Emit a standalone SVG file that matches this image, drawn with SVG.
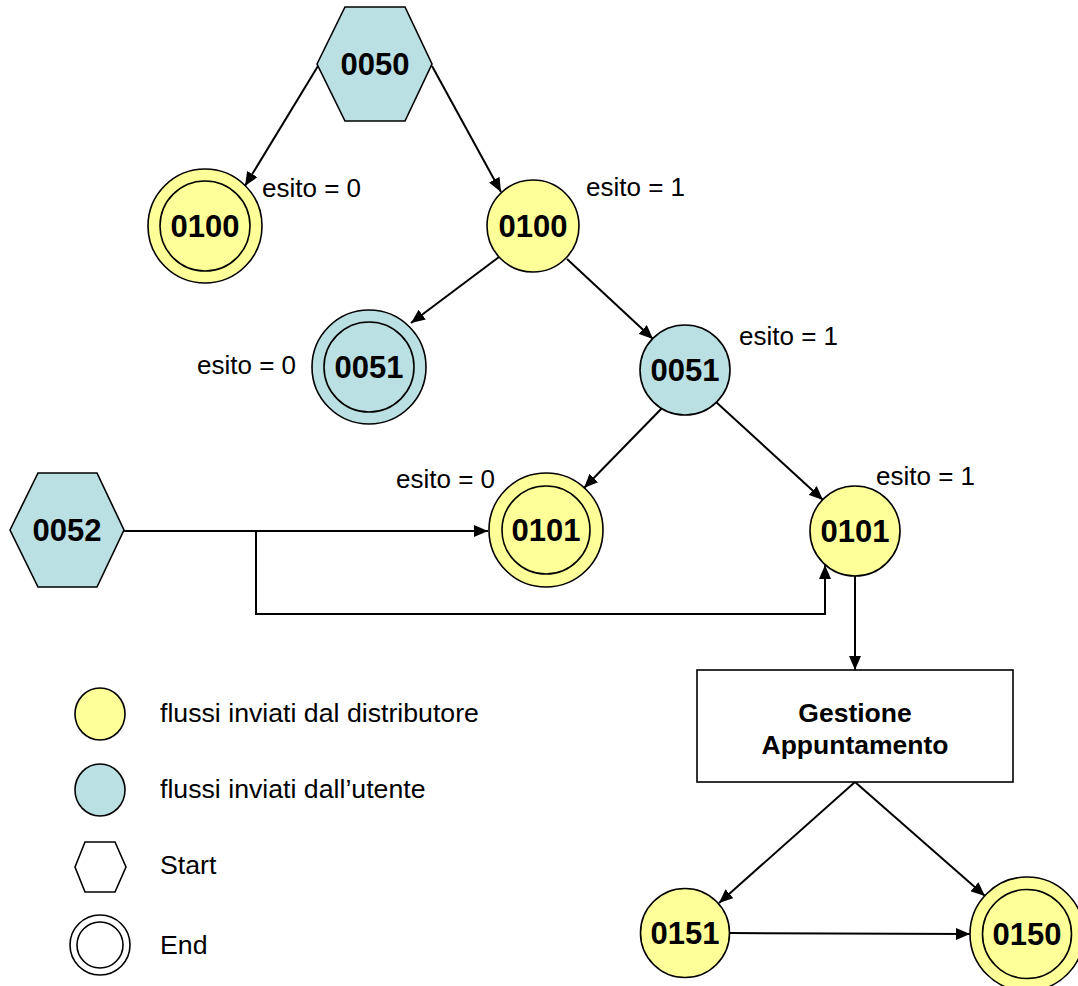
<svg xmlns="http://www.w3.org/2000/svg" width="1078" height="986" viewBox="0 0 1078 986">
<style>
.y{fill:#FFFF99;stroke:#000;stroke-width:1.6}
.b{fill:#BBE0E3;stroke:#000;stroke-width:1.6}
.w{fill:#fff;stroke:#000;stroke-width:1.6}
.in{fill:none;stroke:#000;stroke-width:1.6}
.lbl{font-family:"Liberation Sans",Arial,sans-serif;font-weight:bold;font-size:31px;text-anchor:middle;fill:#000}
.box{font-family:"Liberation Sans",Arial,sans-serif;font-weight:bold;font-size:26.5px;text-anchor:middle;fill:#000}
.t{font-family:"Liberation Sans",Arial,sans-serif;font-size:26px;fill:#000}
.lg{font-family:"Liberation Sans",Arial,sans-serif;font-size:26.7px;fill:#000}
.e{fill:none;stroke:#000;stroke-width:2}
</style>
<defs>
<marker id="ar" viewBox="0 0 14 12" refX="14" refY="6" markerWidth="14" markerHeight="12" markerUnits="userSpaceOnUse" orient="auto">
<path d="M0,0 L14,6 L0,12 Z" fill="#000"/>
</marker>
</defs>
<rect width="1078" height="986" fill="#fff"/>

<g id="connectors">
<path class="e" d="M318,66 L245,186" marker-end="url(#ar)"/>
<path class="e" d="M432,66 L501,192" marker-end="url(#ar)"/>
<path class="e" d="M499,257 L411,323" marker-end="url(#ar)"/>
<path class="e" d="M567,259 L653,339" marker-end="url(#ar)"/>
<path class="e" d="M665,405 L584,488" marker-end="url(#ar)"/>
<path class="e" d="M716,402 L823,500" marker-end="url(#ar)"/>
<path class="e" d="M124,531 L488,531" marker-end="url(#ar)"/>
<path class="e" d="M256,531 L256,614 L825,614 L825,565" marker-end="url(#ar)"/>
<path class="e" d="M855,576 L855,670" marker-end="url(#ar)"/>
<path class="e" d="M855,782 L719,903" marker-end="url(#ar)"/>
<path class="e" d="M855,782 L985,896" marker-end="url(#ar)"/>
<path class="e" d="M730,933 L970,934" marker-end="url(#ar)"/>
</g>

<g id="n0050">
<polygon class="b" points="317,64 345,7 405,7 432,64 405,121 345,121"/>
<text class="lbl" x="375" y="75">0050</text>
</g>

<g id="n0100end">
<circle class="y" cx="205" cy="226" r="57"/>
<circle class="in" cx="205" cy="226" r="45"/>
<text class="lbl" x="205" y="237">0100</text>
</g>
<text class="t" x="262" y="197">esito = 0</text>

<g id="n0100">
<circle class="y" cx="533" cy="226" r="46"/>
<text class="lbl" x="533" y="237">0100</text>
</g>
<text class="t" x="586" y="196">esito = 1</text>

<g id="n0051end">
<circle class="b" cx="369" cy="367" r="57"/>
<circle class="in" cx="369" cy="367" r="45"/>
<text class="lbl" x="369" y="378">0051</text>
</g>
<text class="t" x="197" y="374">esito = 0</text>

<g id="n0051">
<circle class="b" cx="685" cy="370" r="45"/>
<text class="lbl" x="685" y="381">0051</text>
</g>
<text class="t" x="739" y="345">esito = 1</text>

<g id="n0052">
<polygon class="b" points="10,530 38,473 97,473 124,530 97,587 38,587"/>
<text class="lbl" x="67" y="541">0052</text>
</g>

<g id="n0101end">
<circle class="y" cx="546" cy="530" r="57"/>
<circle class="in" cx="546" cy="530" r="44"/>
<text class="lbl" x="546" y="541">0101</text>
</g>
<text class="t" x="396" y="488">esito = 0</text>

<g id="n0101">
<circle class="y" cx="855" cy="531" r="45"/>
<text class="lbl" x="855" y="542">0101</text>
</g>
<text class="t" x="876" y="485">esito = 1</text>

<g id="gestione">
<rect class="w" x="697" y="670" width="316" height="112"/>
<text class="box" x="855" y="722">Gestione</text>
<text class="box" x="855" y="754">Appuntamento</text>
</g>

<g id="n0151">
<circle class="y" cx="685" cy="933" r="44.5"/>
<text class="lbl" x="685" y="944">0151</text>
</g>

<g id="n0150end">
<circle class="y" cx="1027" cy="934" r="57"/>
<circle class="in" cx="1027" cy="934" r="44.5"/>
<text class="lbl" x="1027" y="945">0150</text>
</g>

<g id="legend">
<ellipse class="y" cx="100" cy="714" rx="25" ry="26"/>
<text class="lg" x="160" y="722">flussi inviati dal distributore</text>
<ellipse class="b" cx="100" cy="790" rx="25" ry="26"/>
<text class="lg" x="160" y="798">flussi inviati dall’utente</text>
<polygon class="w" points="75,867 85,842 115,842 126,867 115,892 85,892"/>
<text class="lg" x="160" y="874">Start</text>
<circle class="w" cx="100" cy="945" r="30"/>
<circle class="in" cx="100" cy="945" r="23"/>
<text class="lg" x="160" y="954">End</text>
</g>
</svg>
